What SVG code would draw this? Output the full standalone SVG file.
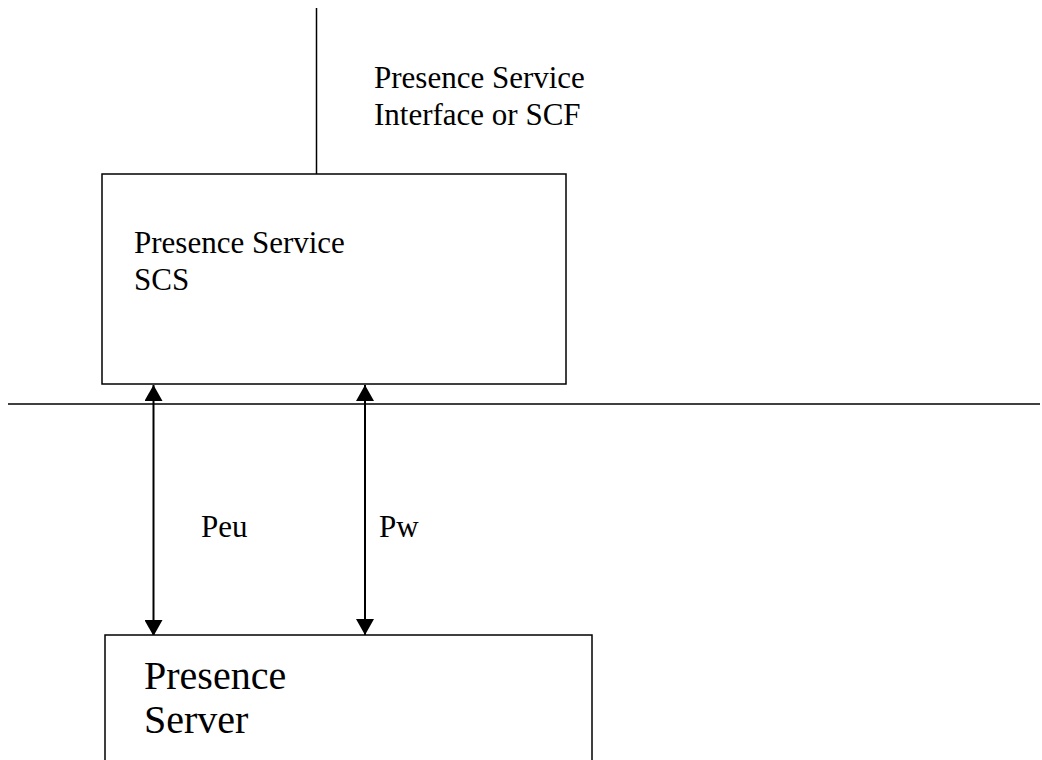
<svg xmlns="http://www.w3.org/2000/svg" width="1042" height="760" viewBox="0 0 1042 760">
<style>
.box{fill:#fff;stroke:#000;stroke-width:1.5}
.ln{stroke:#000;stroke-width:1.5;fill:none}
.arr{stroke:#000;stroke-width:2;fill:none;marker-start:url(#ah);marker-end:url(#ah)}
.t{font-family:"Liberation Serif","Times New Roman",serif;font-size:31px;fill:#000}
.tb{font-family:"Liberation Serif","Times New Roman",serif;font-size:40px;fill:#000}
</style>
<defs>
<marker id="ah" viewBox="0 0 16 18" refX="16" refY="9" markerWidth="16" markerHeight="18" markerUnits="userSpaceOnUse" orient="auto-start-reverse">
<path d="M0,0 L16,9 L0,18 Z" fill="#000"/>
</marker>
</defs>
<rect width="1042" height="760" fill="#fff"/>
<g id="connectors">
<line class="ln" x1="316.5" y1="8" x2="316.5" y2="174"/>
<line class="ln" x1="8" y1="404" x2="1040" y2="404"/>
<line class="arr" x1="153.5" y1="385" x2="153.5" y2="636"/>
<line class="arr" x1="365" y1="385" x2="365" y2="635"/>
</g>
<g id="interface-label">
<text class="t" x="374" y="88">Presence Service</text>
<text class="t" x="374" y="125">Interface or SCF</text>
</g>
<g id="scs">
<rect class="box" x="102" y="174" width="464" height="210"/>
<text class="t" x="134" y="253">Presence Service</text>
<text class="t" x="134" y="290">SCS</text>
</g>
<g id="peu-label"><text class="t" x="201" y="537">Peu</text></g>
<g id="pw-label"><text class="t" x="379" y="537">Pw</text></g>
<g id="server">
<rect class="box" x="105" y="635" width="487" height="140"/>
<text class="tb" x="144" y="689">Presence</text>
<text class="tb" x="144" y="733">Server</text>
</g>
</svg>
